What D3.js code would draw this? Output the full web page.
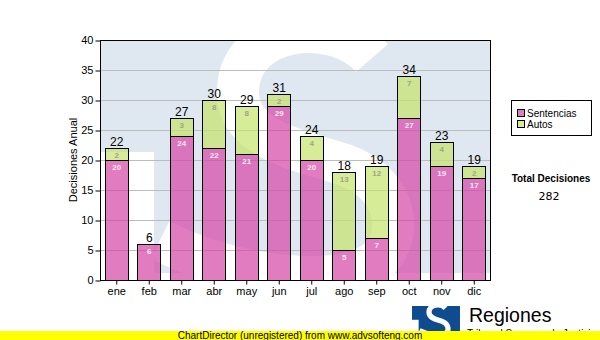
<!DOCTYPE html>
<html><head><meta charset="utf-8">
<script src="https://cdn.jsdelivr.net/npm/d3@7"></script>
<style>html,body{margin:0;padding:0;background:#fff;}svg{display:block;}</style>
</head><body>
<svg id="c" width="600" height="340"></svg>
<script>
const months = ["ene","feb","mar","abr","may","jun","jul","ago","sep","oct","nov","dic"];
const sentencias = [20,6,24,22,21,29,20,5,7,27,19,17];
const autos = [2,0,3,8,8,2,4,13,12,7,4,2];
const seriesNames = ["Sentencias","Autos"];
const yTicks = [0,5,10,15,20,25,30,35,40];
const yTitle = "Decisiones Anual";
const totalLabel = "Total Decisiones";
const footer = "ChartDirector (unregistered) from www.advsofteng.com";
const logoText = "Regiones";
const logoSub = "Tribunal Supremo de Justicia";

const svg = d3.select("#c");
const L = 100, R = 490, T = 40, B = 280;
const F = "'Liberation Sans', Arial, sans-serif";
const colors = ["rgba(212,69,165,0.7)","rgba(196,228,105,0.7)"];
const legendColors = ["#e07cc0","#d6ec96"];

const x = d3.scaleBand().domain(months).range([L,R]).paddingInner(0.28).paddingOuter(0.14);
const y = d3.scaleLinear().domain([0,40]).range([B,T]);

// watermark logo (drawn in 390x233 local box)
const sPath = "M272 18 C235 -25 140 -15 138 50 C136 100 200 110 245 125 C300 145 305 200 275 222 C240 248 140 240 60 200";
function drawLogo(g, blue) {
  g.append("rect").attr("x",0).attr("y",0).attr("width",390).attr("height",233).attr("fill",blue);
  g.append("rect").attr("x",0).attr("y",112).attr("width",54).attr("height",130).attr("fill","#fff");
  g.append("path").attr("d",sPath).attr("fill","none").attr("stroke","#fff").attr("stroke-width",42);
}
svg.append("clipPath").attr("id","pc").append("rect").attr("x",L).attr("y",T).attr("width",R-L).attr("height",B-T);
const wm = svg.append("g").attr("clip-path","url(#pc)").append("g").attr("transform",`translate(${L},${T})`);
drawLogo(wm, "#dfe8f1");

// grid
svg.append("g").selectAll("line").data(yTicks.filter(d=>d>0 && d<40)).join("line")
  .attr("x1",L).attr("x2",R).attr("y1",d=>y(d)+0.5).attr("y2",d=>y(d)+0.5)
  .attr("stroke","#bcbcbc").attr("stroke-width",1);

// bars
const data = months.map((m,i)=>({m, Sentencias: sentencias[i], Autos: autos[i]}));
const stack = d3.stack().keys(seriesNames)(data);
stack.forEach((s,si)=>{
  const g = svg.append("g");
  s.forEach((d,i)=>{
    if (d[1]-d[0] <= 0) return;
    const x0 = Math.round(x(months[i]))+0.5, w = Math.round(x.bandwidth());
    g.append("rect").attr("x",x0).attr("y",Math.round(y(d[1]))+0.5)
      .attr("width",w).attr("height",Math.round(y(d[0]))-Math.round(y(d[1])))
      .attr("fill",colors[si]).attr("stroke","#000").attr("stroke-width",1);
    g.append("text").attr("x",x(months[i])+x.bandwidth()/2+0.5).attr("y",y(d[1])+10)
      .attr("text-anchor","middle").attr("font-family",F).attr("font-size","8px").attr("font-weight","bold")
      .attr("fill", si===0 ? "#fbe6f4" : "#a3a38c").text(d[1]-d[0]);
  });
});
// totals
svg.append("g").selectAll("text").data(data).join("text")
  .attr("x",d=>x(d.m)+x.bandwidth()/2+0.5).attr("y",d=>y(d.Sentencias+d.Autos)-2)
  .attr("text-anchor","middle").attr("font-family",F).attr("font-size","12px").attr("fill","#000")
  .text(d=>d.Sentencias+d.Autos);

// frame
svg.append("rect").attr("x",L+0.5).attr("y",T+0.5).attr("width",R-L).attr("height",B-T)
  .attr("fill","none").attr("stroke","#000");

// axes
const ya = svg.append("g").attr("transform",`translate(${L+0.5},0)`)
  .call(d3.axisLeft(y).tickValues(yTicks).tickSize(5).tickPadding(2));
ya.select(".domain").remove();
ya.selectAll("text").attr("font-family",F).attr("font-size","11px").attr("fill","#000");
ya.selectAll("line").attr("stroke","#000").attr("transform","translate(0,0.5)");
const xa = svg.append("g").attr("transform",`translate(0.5,${B+0.5})`)
  .call(d3.axisBottom(x).tickSize(4).tickPadding(3));
xa.select(".domain").remove();
xa.selectAll("text").attr("font-family",F).attr("font-size","11px").attr("fill","#000");
xa.selectAll("line").attr("stroke","#000");

svg.append("text").attr("transform","translate(77,160) rotate(-90)").attr("text-anchor","middle")
  .attr("font-family",F).attr("font-size","11px").attr("fill","#000").text(yTitle);

// legend
const lg = svg.append("g");
lg.append("rect").attr("x",511.5).attr("y",100.5).attr("width",80).attr("height",35).attr("fill","#fff").attr("stroke","#000");
seriesNames.forEach((n,i)=>{
  lg.append("rect").attr("x",517.5).attr("y",109.5+i*11).attr("width",7).attr("height",7)
    .attr("fill",legendColors[i]).attr("stroke","#000");
  lg.append("text").attr("x",527).attr("y",117+i*11).attr("font-family",F).attr("font-size","10px").attr("fill","#000").text(n);
});
const total = d3.sum(sentencias)+d3.sum(autos);
svg.append("text").attr("x",551).attr("y",182).attr("text-anchor","middle").attr("font-family",F)
  .attr("font-size","10px").attr("font-weight","bold").attr("fill","#000").text(totalLabel);
svg.append("text").attr("x",549).attr("y",200).attr("text-anchor","middle").attr("font-family","'DejaVu Sans', sans-serif")
  .attr("font-size","11px").attr("fill","#000").text(total);

// bottom logo
const sl = svg.append("g").attr("transform","translate(412,306) scale(0.123)");
drawLogo(sl, "#0f4b8f");
svg.append("text").attr("x",469).attr("y",322).attr("font-family",F).attr("font-size","19.5px").attr("fill","#000").text(logoText);
svg.append("text").attr("x",467).attr("y",337).attr("font-family",F).attr("font-size","10px").attr("fill","#000").text(logoSub);
svg.append("rect").attr("x",0).attr("y",331).attr("width",600).attr("height",9).attr("fill","#ffff00");
svg.append("text").attr("x",300).attr("y",338.5).attr("text-anchor","middle").attr("font-family",F)
  .attr("font-size","10px").attr("fill","#000").text(footer);
</script>
</body></html>
